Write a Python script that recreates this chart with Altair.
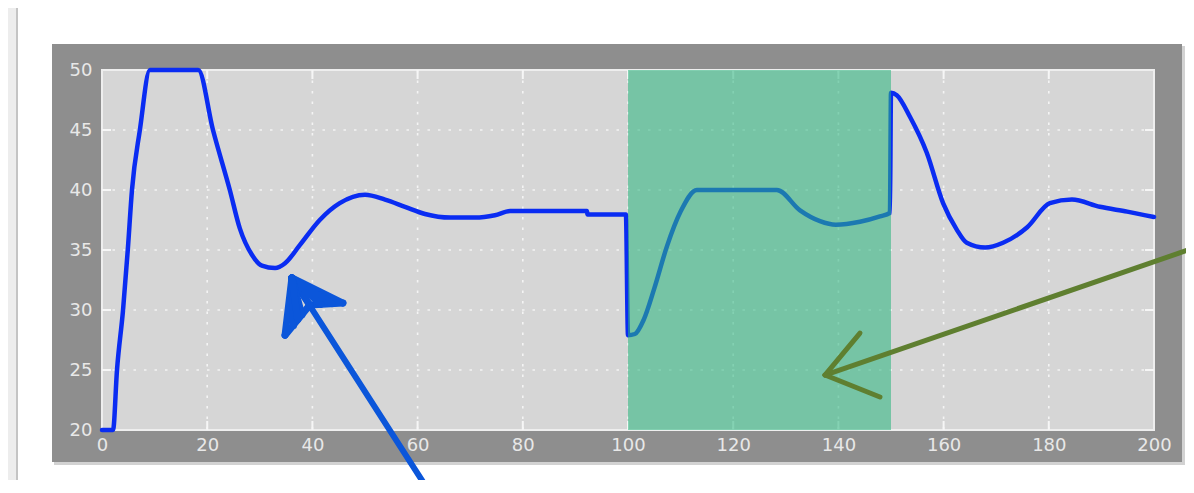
import altair as alt
import pandas as pd

# ---- data ----
SERIES_X = [0, 2.1, 2.85, 4.0, 4.9, 5.7, 7.2, 9.1, 18.3, 21.1, 24.3, 26.2, 28.5, 30.4, 32.9, 34.8,
            37.6, 41.4, 45.2, 50.0, 53.8, 57.6, 61.4, 66.2, 70.9, 74.7, 77.6, 92.2, 92.3, 99.6, 100.0, 101.3,
            103, 105, 107.4, 110, 113.1, 128.3, 132.7, 136.5, 139.5, 144.1, 147.9, 149.8, 150.0, 151.1,
            153.6, 156.8, 159.9, 162.5, 164.4, 167.9, 171.3, 175.9, 180.2, 184.4, 189.7, 194.9, 200]
SERIES_Y = [20, 20, 25, 30, 35, 40, 45, 50, 50, 45, 40, 36.8, 34.6, 33.7, 33.5, 33.9,
            35.4, 37.5, 38.9, 39.6, 39.2, 38.6, 38.0, 37.7, 37.7, 37.9, 38.25, 38.25, 37.95, 37.95, 27.9, 28.0,
            29.2, 31.8, 35.3, 38.2, 40.0, 40.0, 38.3, 37.4, 37.1, 37.35, 37.8, 38.1, 48.1, 47.9,
            46.1, 43.1, 38.9, 36.7, 35.6, 35.2, 35.6, 36.9, 38.9, 39.2, 38.6, 38.2, 37.75]

X_TICKS = [0, 20, 40, 60, 80, 100, 120, 140, 160, 180, 200]
Y_TICKS = [20, 25, 30, 35, 40, 45, 50]
X_GRID = [20, 40, 60, 80, 100, 120, 140, 160, 180]
Y_GRID = [25, 30, 35, 40, 45]

SHADE_START = [100]
SHADE_END = [150]

# hand-drawn arrows (data coordinates): segment id, x, y
BLUE_SHAFT_X = [62.6, 36.1]
BLUE_SHAFT_Y = [14.6, 32.67]
BLUE_SEG = [1, 1, 2, 2, 3, 3, 4, 4, 5, 5, 6, 6, 7, 7, 8, 8, 9, 9, 10, 10]
BLUE_X = [36.1, 45.8, 36.1, 34.8, 45.8, 39.5, 34.8, 39.5,
          36.1, 39.5, 36.1, 43.7, 36.1, 41.6, 36.1, 36.4, 36.1, 38.0, 36.1, 37.2]
BLUE_Y = [32.67, 30.58, 32.67, 27.9, 30.58, 30.42, 27.9, 30.42,
          32.67, 30.42, 32.67, 30.53, 32.67, 30.47, 32.67, 28.7, 32.67, 29.6, 32.67, 29.2]

GREEN_SEG = [0, 0, 1, 1, 2, 2]
GREEN_X = [207.6, 137.45, 137.45, 144.1, 137.45, 147.9]
GREEN_Y = [35.17, 24.58, 24.58, 28.08, 24.58, 22.75]

W, H = 1052, 360

xscale = alt.Scale(domain=[0, 200], nice=False, zero=False)
yscale = alt.Scale(domain=[20, 50], nice=False, zero=False)

common_axis = dict(domain=False, ticks=False, tickSize=0, grid=False, labelFlush=False,
                   labelOverlap=False, labelColor="#e8e8e8", labelFont="DejaVu Sans",
                   labelFontSize=18, zindex=1, format="d")
xaxis = alt.Axis(values=X_TICKS, labelPadding=6, **common_axis)
yaxis = alt.Axis(values=Y_TICKS, labelPadding=10, **common_axis)


def X(f):
    return alt.X(f"{f}:Q", scale=xscale, axis=xaxis, title=None)


def Y(f):
    return alt.Y(f"{f}:Q", scale=yscale, axis=yaxis, title=None)


one = pd.DataFrame({"k": [0]})

shadow = alt.Chart(one).mark_rect(color="#d2d2d2", clip=False).encode(
    x=alt.value(-48), x2=alt.value(1083), y=alt.value(-24), y2=alt.value(395))
frame = alt.Chart(one).mark_rect(color="#8e8e8e", clip=False).encode(
    x=alt.value(-50), x2=alt.value(1080), y=alt.value(-26), y2=alt.value(392))
band = alt.Chart(one).mark_rect(color="#ededed", clip=False).encode(
    x=alt.value(-95), x2=alt.value(-86), y=alt.value(-62), y2=alt.value(412))
pline = alt.Chart(one).mark_rule(color="#c4c4c4", strokeWidth=2, clip=False).encode(
    x=alt.value(-85), y=alt.value(-62), y2=alt.value(412))
plotbg = alt.Chart(one).mark_rect(color="#d6d6d6", stroke="#eeeeee", strokeWidth=2).encode(
    x=alt.value(0), x2=alt.value(W), y=alt.value(0), y2=alt.value(H))

gx = pd.DataFrame({"gx": X_GRID})
gy = pd.DataFrame({"gy": Y_GRID})
vgrid = alt.Chart(gx).mark_rule(color="#f4f4f4", strokeWidth=1.6, strokeDash=[2.5, 8]).encode(
    x=X("gx"), y=alt.value(0), y2=alt.value(H))
hgrid = alt.Chart(gy).mark_rule(color="#f4f4f4", strokeWidth=1.6, strokeDash=[2.5, 8]).encode(
    y=Y("gy"), x=alt.value(0), x2=alt.value(W))
tb = alt.Chart(gx).mark_rule(color="#f6f6f6", strokeWidth=2).encode(
    x=X("gx"), y=alt.value(H), y2=alt.value(H - 9))
tt = alt.Chart(gx).mark_rule(color="#f6f6f6", strokeWidth=2).encode(
    x=X("gx"), y=alt.value(0), y2=alt.value(9))
tl = alt.Chart(gy).mark_rule(color="#f6f6f6", strokeWidth=2).encode(
    y=Y("gy"), x=alt.value(0), x2=alt.value(9))
tr = alt.Chart(gy).mark_rule(color="#f6f6f6", strokeWidth=2).encode(
    y=Y("gy"), x=alt.value(W), x2=alt.value(W - 9))

series = pd.DataFrame({"x": SERIES_X, "y": SERIES_Y, "i": range(len(SERIES_X))})
line = alt.Chart(series).mark_line(color="#0a2cf2", strokeWidth=4.5, strokeJoin="round",
                                   strokeCap="round", interpolate="monotone").encode(
    x=X("x"), y=Y("y"), order="i:Q")

shade = pd.DataFrame({"s": SHADE_START, "e": SHADE_END})
green = alt.Chart(shade).mark_rect(color="#2ab67e", opacity=0.56).encode(
    x=X("s"), x2="e:Q", y=alt.value(0), y2=alt.value(H))

bs = pd.DataFrame({"x": BLUE_SHAFT_X, "y": BLUE_SHAFT_Y, "i": [0, 1]})
blue_shaft = alt.Chart(bs).mark_line(color="#0b56da", strokeWidth=6, strokeCap="round",
                                     clip=False).encode(
    x=X("x"), y=Y("y"), order="i:Q")

bl = pd.DataFrame({"seg": BLUE_SEG, "x": BLUE_X, "y": BLUE_Y, "i": range(len(BLUE_X))})
blue_head = alt.Chart(bl).mark_line(color="#0b56da", strokeWidth=7, strokeCap="round",
                                    strokeJoin="round", clip=False).encode(
    x=X("x"), y=Y("y"), detail="seg:N", order="i:Q")

gr = pd.DataFrame({"seg": GREEN_SEG, "x": GREEN_X, "y": GREEN_Y, "i": range(len(GREEN_X))})
green_arrow = alt.Chart(gr).mark_line(color="#5f7f30", strokeWidth=5, strokeCap="round",
                                      strokeJoin="round", clip=False).encode(
    x=X("x"), y=Y("y"), detail="seg:N", order="i:Q")

chart = alt.layer(
    shadow, frame, band, pline, plotbg, vgrid, hgrid, tb, tt, tl, tr, line, green,
    blue_shaft, blue_head, green_arrow
).properties(
    width=W, height=H,
    padding={"left": 94, "top": 62, "right": 32, "bottom": 50},
    autosize=alt.AutoSizeParams(type="none"),
    background="white",
).configure_view(stroke=None)

chart.save("out.html", embed_options={"renderer": "svg", "actions": False})
